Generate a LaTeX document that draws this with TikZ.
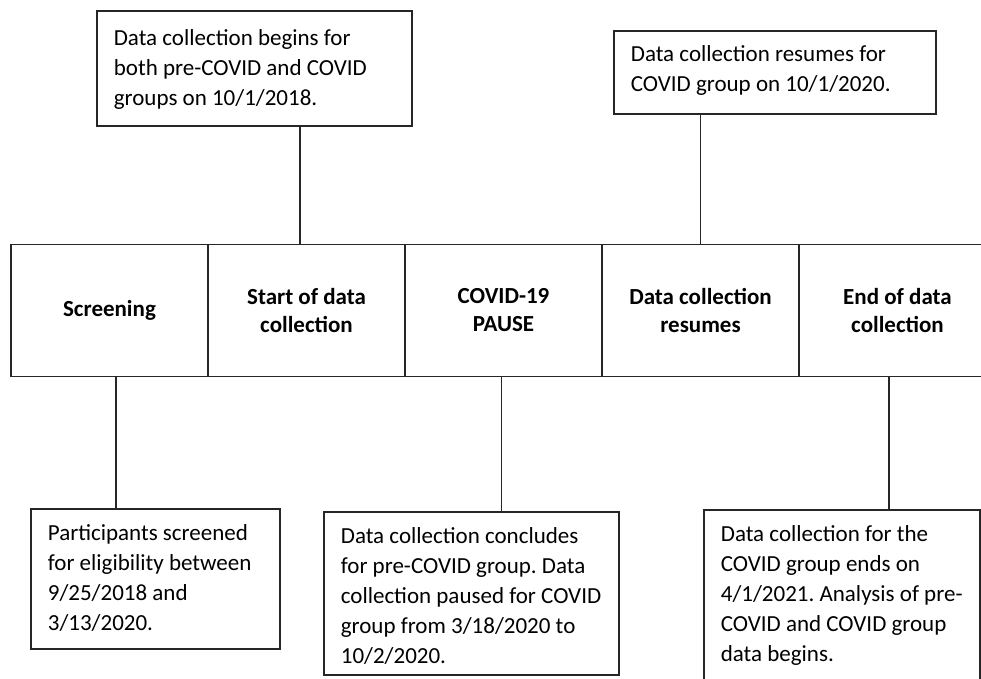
\documentclass[tikz,border=0pt]{standalone}
\usepackage{fontspec}
\setmainfont{Carlito}
\frenchspacing
\newcommand{\boxtext}[4]{\parbox[c][#1][t]{#2}{\raggedright\vspace*{#3}#4}}

\begin{document}
\begin{tikzpicture}[x=1pt, y=-1pt, line width=1.7pt, draw=black!85,
    every node/.style={font=\fontsize{23}{30}\selectfont},
    cell/.style={draw, minimum width=197pt, minimum height=132pt, inner sep=0pt, align=center, font=\fontsize{23}{28}\selectfont\bfseries},
    infobox/.style={draw, anchor=north west, inner xsep=17pt, inner ysep=0pt}]
        \useasboundingbox (0, 0) rectangle (981, 678);

        \foreach \i / \cellname / \celltext in {0/screening/Screening, 1/start/{Start of data\\collection}, 2/pause/{COVID-19\\PAUSE}, 3/resume/{Data collection\\resumes}, 4/finish/{End of data\\collection}}{
          \node [cell] (\cellname) at ({109.5 + 197 * \i}, 310.5) {\celltext};
        }

        \node [infobox] (begins) at (96, 10) {\boxtext{115pt}{281pt}{19pt}{Data collection begins for\\both pre-COVID and COVID\\groups on 10/1/2018.}};
        \node [infobox] (resumes) at (613, 30) {\boxtext{83pt}{288pt}{15pt}{Data collection resumes for\\COVID group on 10/1/2020.}};
        \node [infobox] (screened) at (30, 508) {\boxtext{140pt}{215pt}{16pt}{Participants screened\\for eligibility between\\9/25/2018 and\\3/13/2020.}};
        \node [infobox] (paused) at (323, 511) {\boxtext{163pt}{261pt}{16pt}{Data collection concludes\\for pre-COVID group. Data\\collection paused for COVID\\group from 3/18/2020 to\\10/2/2020.}};
        \node [infobox] (ends) at (703, 509) {\boxtext{185pt}{242pt}{16pt}{Data collection for the\\COVID group ends on\\4/1/2021. Analysis of pre-\\COVID and COVID group\\data begins.}};

        \draw ([xshift=-6.5pt]start.north) -- ([xshift=-6.5pt]start.north |- begins.south);
        \draw (resume.north) -- (resume.north |- resumes.south);
        \draw ([xshift=6.5pt]screening.south) -- ([xshift=6.5pt]screening.south |- screened.north);
        \draw ([xshift=-2pt]pause.south) -- ([xshift=-2pt]pause.south |- paused.north);
        \draw ([xshift=-8.5pt]finish.south) -- ([xshift=-8.5pt]finish.south |- ends.north);
      \end{tikzpicture}
\end{document}
